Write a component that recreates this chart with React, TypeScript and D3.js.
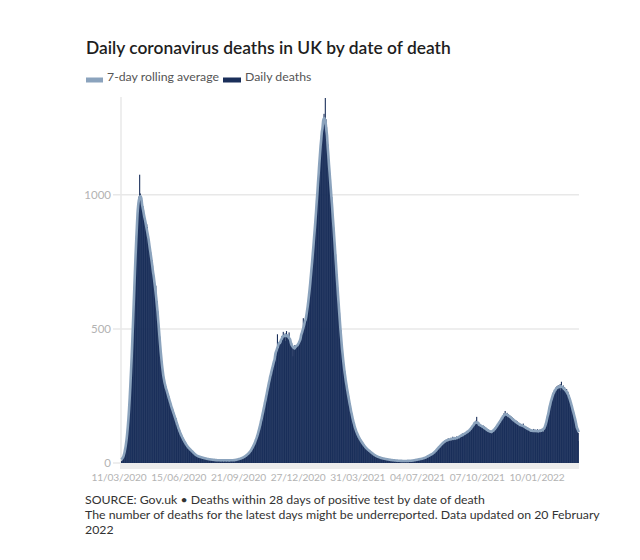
import { useEffect } from 'react';
import * as d3 from 'd3';

// daily deaths (within 28 days of positive test), by date of death
const mar2020 = [7, 10, 14, 20, 26, 38, 45, 62, 78, 101, 123, 150, 195, 232, 282, 330, 398, 452, 503, 566, 648];
const apr2020 = [722, 785, 848, 897, 936, 958, 994, 1075, 1005, 982, 968, 978, 958, 942, 925, 908, 893, 876, 890, 880, 852, 836, 812, 801, 786, 768, 757, 736, 716, 692];
const may2020 = [672, 648, 661, 618, 603, 566, 531, 498, 472, 437, 414, 380, 356, 331, 322, 301, 299, 284, 285, 267, 263, 252, 250, 237, 232, 218, 216, 201, 202, 186, 187];
const jun2020 = [178, 166, 168, 149, 151, 136, 133, 121, 122, 109, 110, 98, 99, 88, 89, 80, 81, 71, 72, 63, 65, 57, 58, 52, 53, 47, 49, 43, 45, 39];
const jul2020 = [38, 34, 31, 30, 29, 27, 26, 25, 24, 23, 22, 22, 21, 20, 20, 19, 18, 18, 17, 16, 16, 15, 15, 14, 14, 14, 13, 13, 12, 13, 12];
const aug2020 = [12, 11, 11, 10, 12, 10, 9, 11, 10, 10, 9, 11, 10, 9, 10, 11, 10, 9, 10, 11, 10, 10, 9, 10, 11, 10, 9, 10, 11, 10, 10];
const sep2020 = [10, 11, 11, 12, 12, 13, 13, 14, 15, 15, 16, 17, 18, 19, 20, 21, 23, 24, 26, 28, 30, 32, 34, 36, 39, 42, 46, 49, 53, 57];
const oct2020 = [62, 70, 71, 82, 83, 93, 97, 109, 113, 127, 131, 148, 152, 169, 174, 193, 197, 215, 221, 240, 245, 265, 268, 290, 294, 313, 318, 336, 335, 356, 355];
const nov2020 = [368, 382, 388, 402, 400, 414, 480, 430, 428, 445, 442, 456, 454, 474, 460, 489, 466, 480, 483, 455, 492, 474, 468, 472, 487, 458, 462, 450, 448, 440];
const dec2020 = [398, 432, 428, 440, 425, 438, 430, 444, 436, 446, 450, 452, 462, 470, 478, 488, 540, 500, 512, 522, 530, 545, 560, 578, 598, 620, 645, 668, 692, 718, 748];
const jan2021 = [790, 812, 828, 878, 893, 938, 958, 1012, 1038, 1092, 1104, 1158, 1178, 1222, 1238, 1270, 1272, 1302, 1262, 1361, 1282, 1252, 1212, 1188, 1132, 1117, 1078, 1057, 1008, 992, 948];
const feb2021 = [920, 878, 856, 801, 778, 728, 704, 655, 631, 583, 561, 514, 496, 452, 430, 397, 383, 353, 344, 318, 309, 286, 279, 258, 251, 230, 223, 205];
const mar2021 = [196, 181, 175, 157, 153, 138, 135, 122, 121, 109, 110, 98, 99, 89, 91, 81, 83, 74, 76, 67, 69, 60, 62, 55, 56, 50, 52, 46, 48, 42, 44];
const apr2021 = [40, 38, 36, 34, 32, 30, 29, 27, 26, 25, 24, 23, 22, 21, 20, 19, 19, 18, 17, 17, 16, 16, 15, 15, 14, 14, 13, 13, 13, 12];
const may2021 = [12, 11, 11, 10, 11, 10, 10, 9, 10, 9, 9, 8, 9, 8, 8, 9, 8, 7, 8, 8, 7, 8, 7, 8, 7, 8, 8, 7, 8, 9, 8];
const jun2021 = [8, 9, 8, 9, 9, 10, 11, 10, 11, 12, 12, 13, 13, 14, 14, 15, 14, 16, 16, 17, 18, 17, 19, 20, 21, 22, 24, 25, 27, 28];
const jul2021 = [29, 31, 30, 34, 33, 37, 36, 41, 42, 47, 46, 53, 52, 58, 57, 64, 62, 69, 67, 74, 72, 79, 77, 84, 78, 87, 82, 85, 92, 81, 89];
const aug2021 = [86, 94, 84, 89, 98, 86, 90, 95, 87, 93, 99, 88, 94, 97, 101, 92, 105, 98, 104, 110, 99, 107, 112, 104, 115, 110, 118, 112, 121, 116, 124];
const sep2021 = [120, 131, 126, 138, 133, 145, 139, 152, 144, 158, 172, 149, 137, 152, 140, 146, 135, 142, 138, 131, 140, 129, 136, 124, 133, 121, 128, 118, 125, 116];
const oct2021 = [122, 113, 119, 110, 121, 114, 125, 118, 130, 124, 136, 131, 143, 138, 150, 147, 158, 154, 165, 160, 172, 168, 185, 176, 194, 180, 176, 187, 171, 182, 175];
const nov2021 = [178, 168, 174, 162, 170, 158, 166, 153, 161, 150, 158, 146, 155, 143, 150, 140, 147, 137, 144, 134, 141, 147, 132, 138, 129, 136, 126, 133, 124, 131];
const dec2021 = [122, 128, 118, 125, 116, 122, 113, 127, 119, 124, 115, 121, 117, 126, 112, 120, 118, 125, 114, 122, 128, 119, 116, 130, 124, 135, 148, 142, 160, 172, 188];
const jan2022 = [198, 215, 208, 232, 245, 238, 262, 255, 270, 264, 281, 272, 286, 276, 290, 282, 279, 294, 271, 303, 285, 278, 289, 268, 282, 272, 264, 276, 258, 266, 249];
const feb2022 = [252, 240, 236, 222, 215, 206, 198, 188, 176, 170, 158, 150, 138, 128, 112, 82];

const firstDay = '11/03/2020';
const yTicks = [0, 500, 1000];
const xLabels = ['11/03/2020', '15/06/2020', '21/09/2020', '27/12/2020', '31/03/2021', '04/07/2021', '07/10/2021', '10/01/2022'];

const title = 'Daily coronavirus deaths in UK by date of death';
const legendItems = ['7-day rolling average', 'Daily deaths'];
const footer = [
  'SOURCE: Gov.uk \u2022 Deaths within 28 days of positive test by date of death',
  'The number of deaths for the latest days might be underreported. Data updated on 20 February',
  '2022',
];

const FONT = 'Lato, "Open Sans", sans-serif';
const BAR = '#1a2f5a';
const AVG = '#8ba3bd';

export default function App() {
  useEffect(() => {
    document.body.style.margin = '0';
  }, []);

  const daily = [
    ...mar2020, ...apr2020, ...may2020, ...jun2020, ...jul2020, ...aug2020,
    ...sep2020, ...oct2020, ...nov2020, ...dec2020,
    ...jan2021, ...feb2021, ...mar2021, ...apr2021, ...may2021, ...jun2021,
    ...jul2021, ...aug2021, ...sep2021, ...oct2021, ...nov2021, ...dec2021,
    ...jan2022, ...feb2022,
  ];
  const start = d3.utcParse('%d/%m/%Y')(firstDay) as Date;
  const rows = daily.map((v, i) => ({
    date: d3.utcDay.offset(start, i),
    value: v,
    avg: d3.mean(daily.slice(Math.max(0, i - 3), i + 4)) ?? v,
  }));

  const width = 640;
  const height = 560;
  const margin = { top: 98, right: 61, bottom: 97, left: 121 };

  const x = d3
    .scaleUtc()
    .domain([start, d3.utcDay.offset(start, daily.length)])
    .range([margin.left, width - margin.right]);
  const y = d3
    .scaleLinear()
    .domain([0, d3.max(daily) ?? 1])
    .range([height - margin.bottom, margin.top]);
  const xl = d3
    .scalePoint<string>()
    .domain(xLabels)
    .range([margin.left - 2, margin.left + 416]);

  const step = x(d3.utcDay.offset(start, 1)) - x(start);
  const line = d3
    .line<(typeof rows)[number]>()
    .x((d) => x(d.date) + step / 2)
    .y((d) => y(d.avg))
    .curve(d3.curveMonotoneX);

  const left = margin.left;
  const right = width - margin.right;
  const base = y(0);

  return (
    <svg width={width} height={height} style={{ display: 'block', fontFamily: FONT }}>
      <rect width={width} height={height} fill="#fff" />
      <text x={86} y={54} fontSize={17.4} fontWeight={600} fill="#1e1e1e">
        {title}
      </text>

      <g fontSize={12.3} fill="#555">
        <rect x={86} y={77.5} width={17} height={5} fill={AVG} />
        <text x={107} y={81}>
          {legendItems[0]}
        </text>
        <rect x={223} y={77.5} width={18} height={5} fill={BAR} />
        <text x={245} y={81}>
          {legendItems[1]}
        </text>
      </g>

      {/* grid + y labels */}
      {yTicks.map((t) => (
        <g key={t}>
          <line x1={left - 8} x2={right} y1={y(t)} y2={y(t)} stroke="#e8e8e8" strokeWidth={1.5} />
          <text x={left - 10} y={y(t) + 4} fontSize={11.5} fill="#b3b3b3" textAnchor="end">
            {t}
          </text>
        </g>
      ))}
      <line x1={left} x2={left} y1={margin.top - 1} y2={base} stroke="#e8e8e8" strokeWidth={1.5} />

      {/* bars overlap a little so anti-aliased seams don't wash out the fill */}
      {rows.map((d, i) => (
        <rect
          key={i}
          x={x(d.date)}
          y={y(d.value)}
          width={i === rows.length - 1 ? step : step + 0.45}
          height={base - y(d.value)}
          fill={BAR}
        />
      ))}

      <path d={line(rows) ?? ''} fill="none" stroke={AVG} strokeWidth={2.6} strokeLinejoin="round" />

      <rect x={left - 1} y={base} width={right - left + 1} height={6} fill="#ececec" />

      {xLabels.map((l) => (
        <text key={l} x={xl(l)} y={481} fontSize={10.2} letterSpacing={-0.15} fill="#b3b3b3" textAnchor="middle">
          {l}
        </text>
      ))}

      <g fontSize={12.3} fill="#333">
        {footer.map((f, i) => (
          <text key={i} x={85} y={504 + i * 15}>
            {f}
          </text>
        ))}
      </g>
    </svg>
  );
}
